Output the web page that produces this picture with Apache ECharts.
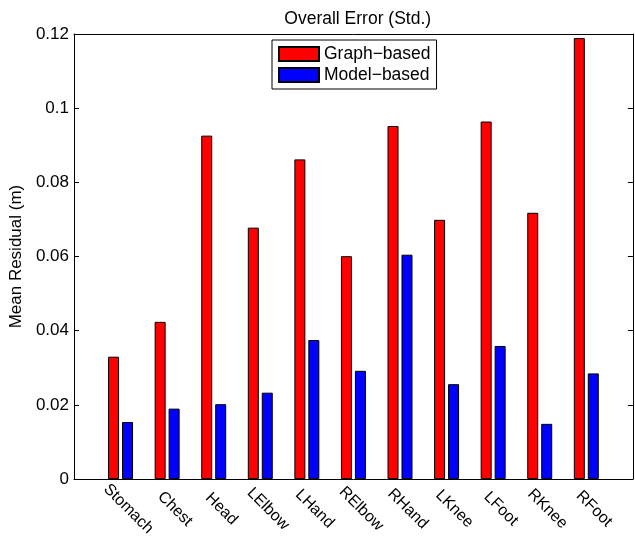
<!DOCTYPE html>
<html>
<head>
<meta charset="utf-8">
<script src="https://cdn.jsdelivr.net/npm/echarts@6/dist/echarts.min.js"></script>
<style>
html,body{margin:0;padding:0;background:#fff;}
#c{width:635px;height:539px;}
</style>
</head>
<body>
<div id="c"></div>
<script>
const categories = ['Stomach','Chest','Head','LElbow','LHand','RElbow','RHand','LKnee','LFoot','RKnee','RFoot'];
const graphBased = [0.0330, 0.0424, 0.0926, 0.0678, 0.0862, 0.0601, 0.0952, 0.0699, 0.0964, 0.0718, 0.1189];
const modelBased = [0.0154, 0.0190, 0.0202, 0.0233, 0.0375, 0.0292, 0.0605, 0.0256, 0.0359, 0.0149, 0.0285];
const yTicks = [0, 0.02, 0.04, 0.06, 0.08, 0.1, 0.12];

const FONT = 'Liberation Sans, Arial, Helvetica, sans-serif';
const chart = echarts.init(document.getElementById('c'), null, {renderer:'canvas'});

const gData = graphBased.map((v,i)=>[i+1, v]);
const mData = modelBased.map((v,i)=>[i+1, v]);

chart.setOption({
  animation:false,
  backgroundColor:'#fff',
  title:{
    text:'Overall Error (Std.)',
    left:352.7, top:5, textAlign:'center',
    textStyle:{fontFamily:FONT, fontSize:17.5, fontWeight:'normal', color:'#000'}
  },
  legend:{
    orient:'vertical', left:272, top:40,
    itemWidth:40, itemHeight:14, itemGap:3,
    padding:[5,6,5,6],
    borderColor:'#000', borderWidth:1, backgroundColor:'#fff',
    icon:'rect',
    textStyle:{fontFamily:FONT, fontSize:17.5, color:'#000'},
    data:['Graph\u2212based','Model\u2212based']
  },
  grid:{left:68, top:34, width:569.5, height:448.5, containLabel:false},
  xAxis:[{
    type:'value', min:0, max:12, interval:1,
    axisLine:{show:true, onZero:false, lineStyle:{color:'#000', width:1}},
    axisTick:{show:false},
    splitLine:{show:false},
    axisLabel:{
      show:true, rotate:-45, align:'center', verticalAlign:'middle',
      margin:22, padding:[0,0,0,22],
      fontFamily:FONT, fontSize:16, color:'#000',
      formatter:function(v){ const i=Math.round(v)-1; return (i>=0 && i<categories.length)?categories[i]:''; }
    }
  },{
    type:'value', min:0, max:12, interval:1, position:'top',
    axisLine:{show:true, onZero:false, lineStyle:{color:'#000', width:1}},
    axisTick:{show:false}, axisLabel:{show:false}, splitLine:{show:false}
  }],
  yAxis:[{
    type:'value', min:0, max:0.12, interval:0.02,
    name:'Mean Residual (m)', nameLocation:'middle', nameRotate:90, nameGap:45,
    nameTextStyle:{fontFamily:FONT, fontSize:17, color:'#000'},
    axisLine:{show:true, onZero:false, lineStyle:{color:'#000', width:1}},
    axisTick:{show:true, inside:true, length:5, lineStyle:{color:'#000'}},
    splitLine:{show:false},
    axisLabel:{margin:5, fontFamily:FONT, fontSize:17, color:'#000',
      formatter:function(v){ return String(parseFloat(v.toFixed(4))); }}
  },{
    type:'value', min:0, max:0.12, interval:0.02, position:'right',
    axisLine:{show:true, onZero:false, lineStyle:{color:'#000', width:1}},
    axisTick:{show:true, inside:true, length:5, lineStyle:{color:'#000'}},
    axisLabel:{show:false}, splitLine:{show:false}
  }],
  series:[{
    name:'Graph\u2212based', type:'bar', xAxisIndex:0, yAxisIndex:0,
    data:gData, barWidth:11, barGap:'27%',
    itemStyle:{color:'#ff0000', borderColor:'#000', borderWidth:1}
  },{
    name:'Model\u2212based', type:'bar', xAxisIndex:0, yAxisIndex:0,
    data:mData, barWidth:11, barGap:'27%',
    itemStyle:{color:'#0000ff', borderColor:'#000', borderWidth:1}
  }]
});
</script>
</body>
</html>
